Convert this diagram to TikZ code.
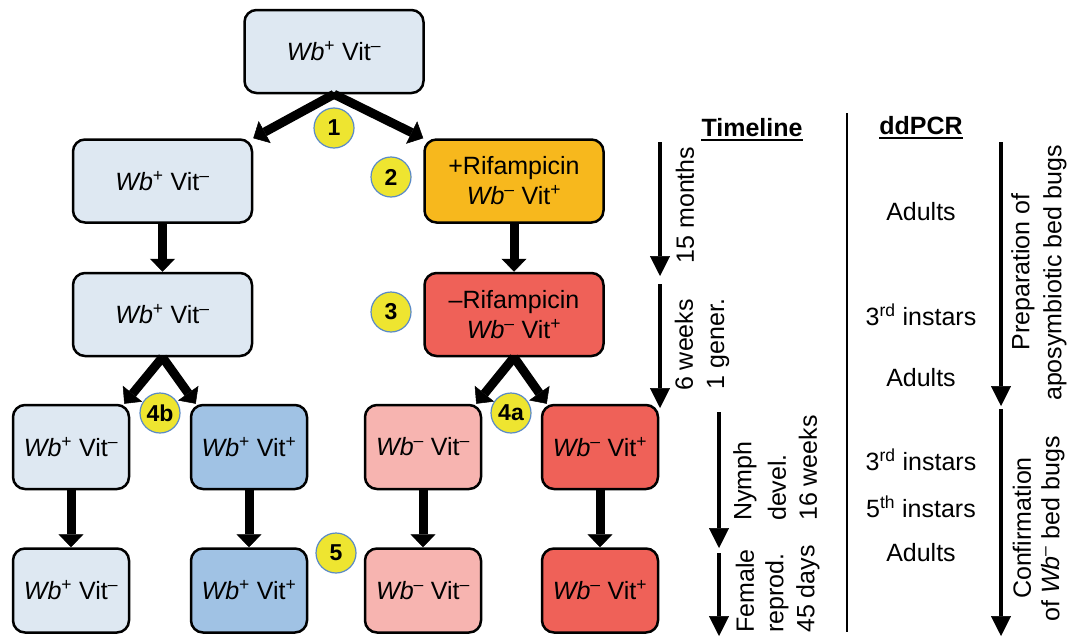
\documentclass[tikz,border=0pt]{standalone}
\usepackage{xcolor}
\definecolor{dee8f2}{HTML}{dee8f2}
\definecolor{a0c2e4}{HTML}{a0c2e4}
\definecolor{f7b81d}{HTML}{f7b81d}
\definecolor{ef6158}{HTML}{ef6158}
\definecolor{f7b4b0}{HTML}{f7b4b0}
\definecolor{eee530}{HTML}{eee530}
\definecolor{5a8ac6}{HTML}{5a8ac6}
\usepackage{fontspec}
\setmainfont{Liberation Sans}
\usepackage{tikz}
\usetikzlibrary{arrows.meta}
\newcommand{\Wbp}{\textit{Wb}\textsuperscript{+}}
\newcommand{\Wbm}{\textit{Wb}\textsuperscript{–}}
\newcommand{\Vitp}{Vit\textsuperscript{+}}
\newcommand{\Vitm}{Vit\textsuperscript{–}}

\begin{document}
\begin{tikzpicture}[x=1pt, y=-1pt,
        every node/.style={font=\fontsize{25}{30}\selectfont},
        box/.style={draw, line width=2.5pt, rounded corners=12pt, minimum width=179pt, minimum height=83pt, inner sep=0pt, align=center},
        leafbox/.style={box, minimum width=116pt, minimum height=84pt},
        badge/.style={circle, draw=5a8ac6, line width=1.2pt, fill=eee530, minimum size=40pt, inner sep=0pt, font=\fontsize{23}{23}\selectfont\bfseries},
        fat/.style={line width=9pt, -{Triangle[width=25pt, length=13pt, line width=0.5pt]}},
        timearrow/.style={line width=4pt, -{Triangle[width=20pt, length=20pt, line width=0.5pt]}},
        side/.style={rotate=90, inner sep=0pt},
        head/.style={inner sep=0pt, font=\fontsize{25}{30}\selectfont\bfseries}]
            \useasboundingbox (0, 0) rectangle (1081, 637);

            \node (top) at (334, 51.5) [box, fill=dee8f2] {\Wbp{} \Vitm};

            \node (l2) at (162.5, 181) [box, fill=dee8f2] {\Wbp{} \Vitm};
            \node (r2) at (514, 181) [box, fill=f7b81d] {+Rifampicin\\\Wbm{} \Vitp};
            \node (l3) at (162.5, 314.5) [box, fill=dee8f2] {\Wbp{} \Vitm};
            \node (r3) at (514, 314.5) [box, fill=ef6158] {–Rifampicin\\\Wbm{} \Vitp};

            \node (a4) at (71, 447) [leafbox, fill=dee8f2] {\Wbp{} \Vitm};
            \node (b4) at (249, 447) [leafbox, fill=a0c2e4] {\Wbp{} \Vitp};
            \node (c4) at (423, 447) [leafbox, fill=f7b4b0] {\Wbm{} \Vitm};
            \node (d4) at (600, 447) [leafbox, fill=ef6158] {\Wbm{} \Vitp};
            \node (a5) at (71, 590.5) [leafbox, fill=dee8f2] {\Wbp{} \Vitm};
            \node (b5) at (249, 590.5) [leafbox, fill=a0c2e4] {\Wbp{} \Vitp};
            \node (c5) at (423, 590.5) [leafbox, fill=f7b4b0] {\Wbm{} \Vitm};
            \node (d5) at (600, 590.5) [leafbox, fill=ef6158] {\Wbm{} \Vitp};

            \draw[fat] (top.south) to (l2.north east);
            \draw[fat] (top.south) to (r2.north west);
            \draw[fat] (l2) to (l3);
            \draw[fat] (r2) to (r3);
            \draw[fat] (l3.south) to ([xshift=-6pt]a4.north east);
            \draw[fat] (l3.south) to ([xshift=6pt]b4.north west);
            \draw[fat] (r3.south) to ([xshift=-6pt]c4.north east);
            \draw[fat] (r3.south) to ([xshift=6pt]d4.north west);
            \draw[fat] (a4) to (a5);
            \draw[fat] (b4) to (b5);
            \draw[fat] (c4) to (c5);
            \draw[fat] (d4) to (d5);

            \node (n1) at (334, 128) [badge] {1};
            \node (n2) at (391, 177) [badge] {2};
            \node (n3) at (391, 312) [badge] {3};
            \node (n4b) at (160, 413) [badge] {4b};
            \node (n4a) at (511, 413) [badge] {4a};
            \node (n5) at (336, 553) [badge] {5};

            % timeline column
            \node (tl) at (752, 128) [head] {Timeline};
            \draw[line width=1.5pt] ([yshift=-3pt]tl.base west) to ([yshift=-3pt]tl.base east);
            \coordinate (t1s) at (660, 142);
            \coordinate (t1e) at (660, 276);
            \coordinate (t2s) at (660, 284);
            \coordinate (t2e) at (660, 408);
            \coordinate (t3s) at (719, 412);
            \coordinate (t3e) at (719, 548);
            \coordinate (t4s) at (719, 553);
            \coordinate (t4e) at (719, 636);
            \draw[timearrow] (t1s) to (t1e);
            \draw[timearrow] (t2s) to (t2e);
            \draw[timearrow] (t3s) to (t3e);
            \draw[timearrow] (t4s) to (t4e);

            \node (m15) at (685, 205) [side] {15 months};
            \node (w6) at (684, 345) [side] {6 weeks};
            \node (g1) at (718, 344) [side] {1 gener.};
            \node (nym) at (745, 521) [side, anchor=west] {Nymph};
            \node (dev) at (777, 521) [side, anchor=west] {devel.};
            \node (w16) at (808, 521) [side, anchor=west] {16 weeks};
            \node (fem) at (745, 633) [side, anchor=west] {Female};
            \node (rep) at (777, 633) [side, anchor=west] {reprod.};
            \node (d45) at (808, 633) [side, anchor=west] {45 days};

            \coordinate (s1) at (847, 113);
            \coordinate (s2) at (847, 632);
            \draw[line width=1.5pt] (s1) to (s2);

            % ddPCR column
            \node (pcr) at (921, 126) [head] {ddPCR};
            \draw[line width=1.5pt] ([yshift=-3pt]pcr.base west) to ([yshift=-3pt]pcr.base east);
            \node (ad1) at (921, 212) {Adults};
            \node (in3a) at (921, 315) {3\textsuperscript{rd} instars};
            \node (ad2) at (921, 378) {Adults};
            \node (in3b) at (921, 460) {3\textsuperscript{rd} instars};
            \node (in5) at (921, 507) {5\textsuperscript{th} instars};
            \node (ad3) at (921, 553) {Adults};

            \coordinate (p1s) at (1001, 142);
            \coordinate (p1e) at (1001, 406);
            \coordinate (p2s) at (1001, 409);
            \coordinate (p2e) at (1001, 636);
            \draw[timearrow] (p1s) to (p1e);
            \draw[timearrow] (p2s) to (p2e);

            \node (prep) at (1023, 272) [side] {Preparation of};
            \node (apo) at (1055, 273) [side] {aposymbiotic bed bugs};
            \node (conf) at (1022, 528) [side] {Confirmation};
            \node (ofwb) at (1053, 529) [side] {of \Wbm{} bed bugs};
        \end{tikzpicture}
\end{document}
